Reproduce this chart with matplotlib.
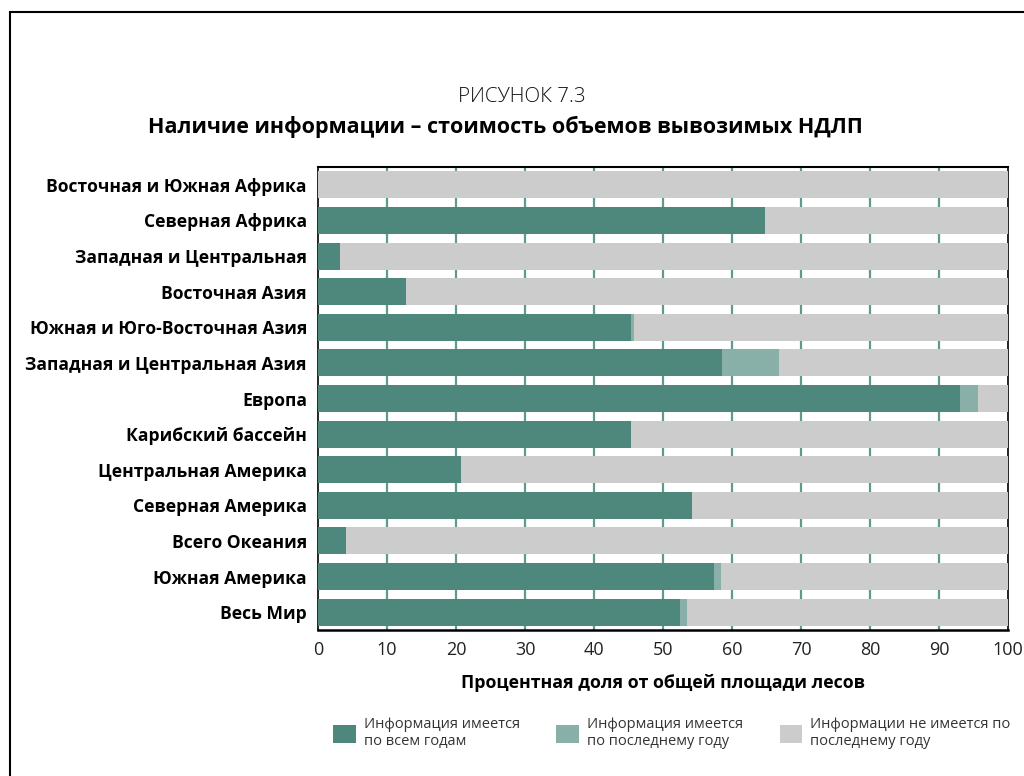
import matplotlib
matplotlib.use("Agg")
import matplotlib.pyplot as plt
from matplotlib.patches import Rectangle
import numpy as np

plt.rcParams['font.family'] = ['Open Sans', 'DejaVu Sans']

# Data
regions = [
    'Восточная и Южная Африка',
    'Северная Африка',
    'Западная и Центральная',
    'Восточная Азия',
    'Южная и Юго-Восточная Азия',
    'Западная и Центральная Азия',
    'Европа',
    'Карибский бассейн',
    'Центральная Америка',
    'Северная Америка',
    'Всего Океания',
    'Южная Америка',
    'Весь Мир',
]
all_years = [0.0, 64.8, 3.2, 12.8, 45.4, 58.6, 93.0, 45.4, 20.7, 54.2, 4.1, 57.4, 52.5]
last_year = [0.0, 0.0, 0.0, 0.0, 0.4, 8.2, 2.7, 0.0, 0.0, 0.0, 0.0, 1.0, 1.0]
no_info = [100 - a - b for a, b in zip(all_years, last_year)]

legend_labels = [
    'Информация имеется\nпо всем годам',
    'Информация имеется\nпо последнему году',
    'Информации не имеется по\nпоследнему году',
]
colors = ['#4e887c', '#88b0a8', '#cccccc']

fig = plt.figure(figsize=(10.24, 7.76), dpi=100)
ax = fig.add_axes([318 / 1024, 1 - 630 / 776, 690 / 1024, 463 / 776])

y = np.arange(len(regions))
a = np.array(all_years)
b = np.array(last_year)
c = np.array(no_info)
h = 0.76
b1 = ax.barh(y, a, height=h, color=colors[0], zorder=3)
b2 = ax.barh(y, b, left=a, height=h, color=colors[1], zorder=3)
b3 = ax.barh(y, c, left=a + b, height=h, color=colors[2], zorder=3)

ax.set_xlim(0, 100)
ax.set_ylim(len(regions) - 0.5, -0.5)
ax.set_xticks(range(0, 101, 10))
ax.tick_params(axis='x', length=0, labelsize=13, labelcolor='#222222', pad=8)
ax.set_yticks(y)
ax.set_yticklabels(regions, fontsize=12.6, fontweight='bold')
ax.tick_params(axis='y', length=0, pad=8)

for xv in range(10, 100, 10):
    ax.axvline(xv, color='#5e9a90', lw=1.6, zorder=1)

for s in ['left', 'top', 'bottom', 'right']:
    ax.spines[s].set_color('black')
    ax.spines[s].set_zorder(2)
ax.spines['left'].set_linewidth(1.2)
ax.spines['right'].set_linewidth(1.2)
ax.spines['top'].set_linewidth(1.5)
ax.spines['bottom'].set_linewidth(1.8)

ax.set_xlabel('Процентная доля от общей площади лесов', fontsize=12.8,
              fontweight='bold', labelpad=11)

fig.text(0.51, 1 - 97 / 776, 'РИСУНОК 7.3', ha='center', va='center',
         fontsize=14.8, fontweight='light', color='#111111')
fig.text(0.494, 1 - 127 / 776, 'Наличие информации – стоимость объемов вывозимых НДЛП',
         ha='center', va='center', fontsize=15.5, fontweight='bold')

fig.legend([b1, b2, b3], legend_labels, loc='upper left',
           bbox_to_anchor=(320 / 1024, 1 - 704 / 776), ncol=3, frameon=False,
           fontsize=10.5, handlelength=1.55, handleheight=1.55, handletextpad=0.55,
           columnspacing=2.5, labelcolor='#333333')

# frame around the figure
fig.add_artist(Rectangle((10 / 1024, -0.1), 1.2, 1.1 - 12 / 776,
                         transform=fig.transFigure, fill=False,
                         edgecolor='black', lw=1.5))

fig.savefig('out.png', dpi=100)
